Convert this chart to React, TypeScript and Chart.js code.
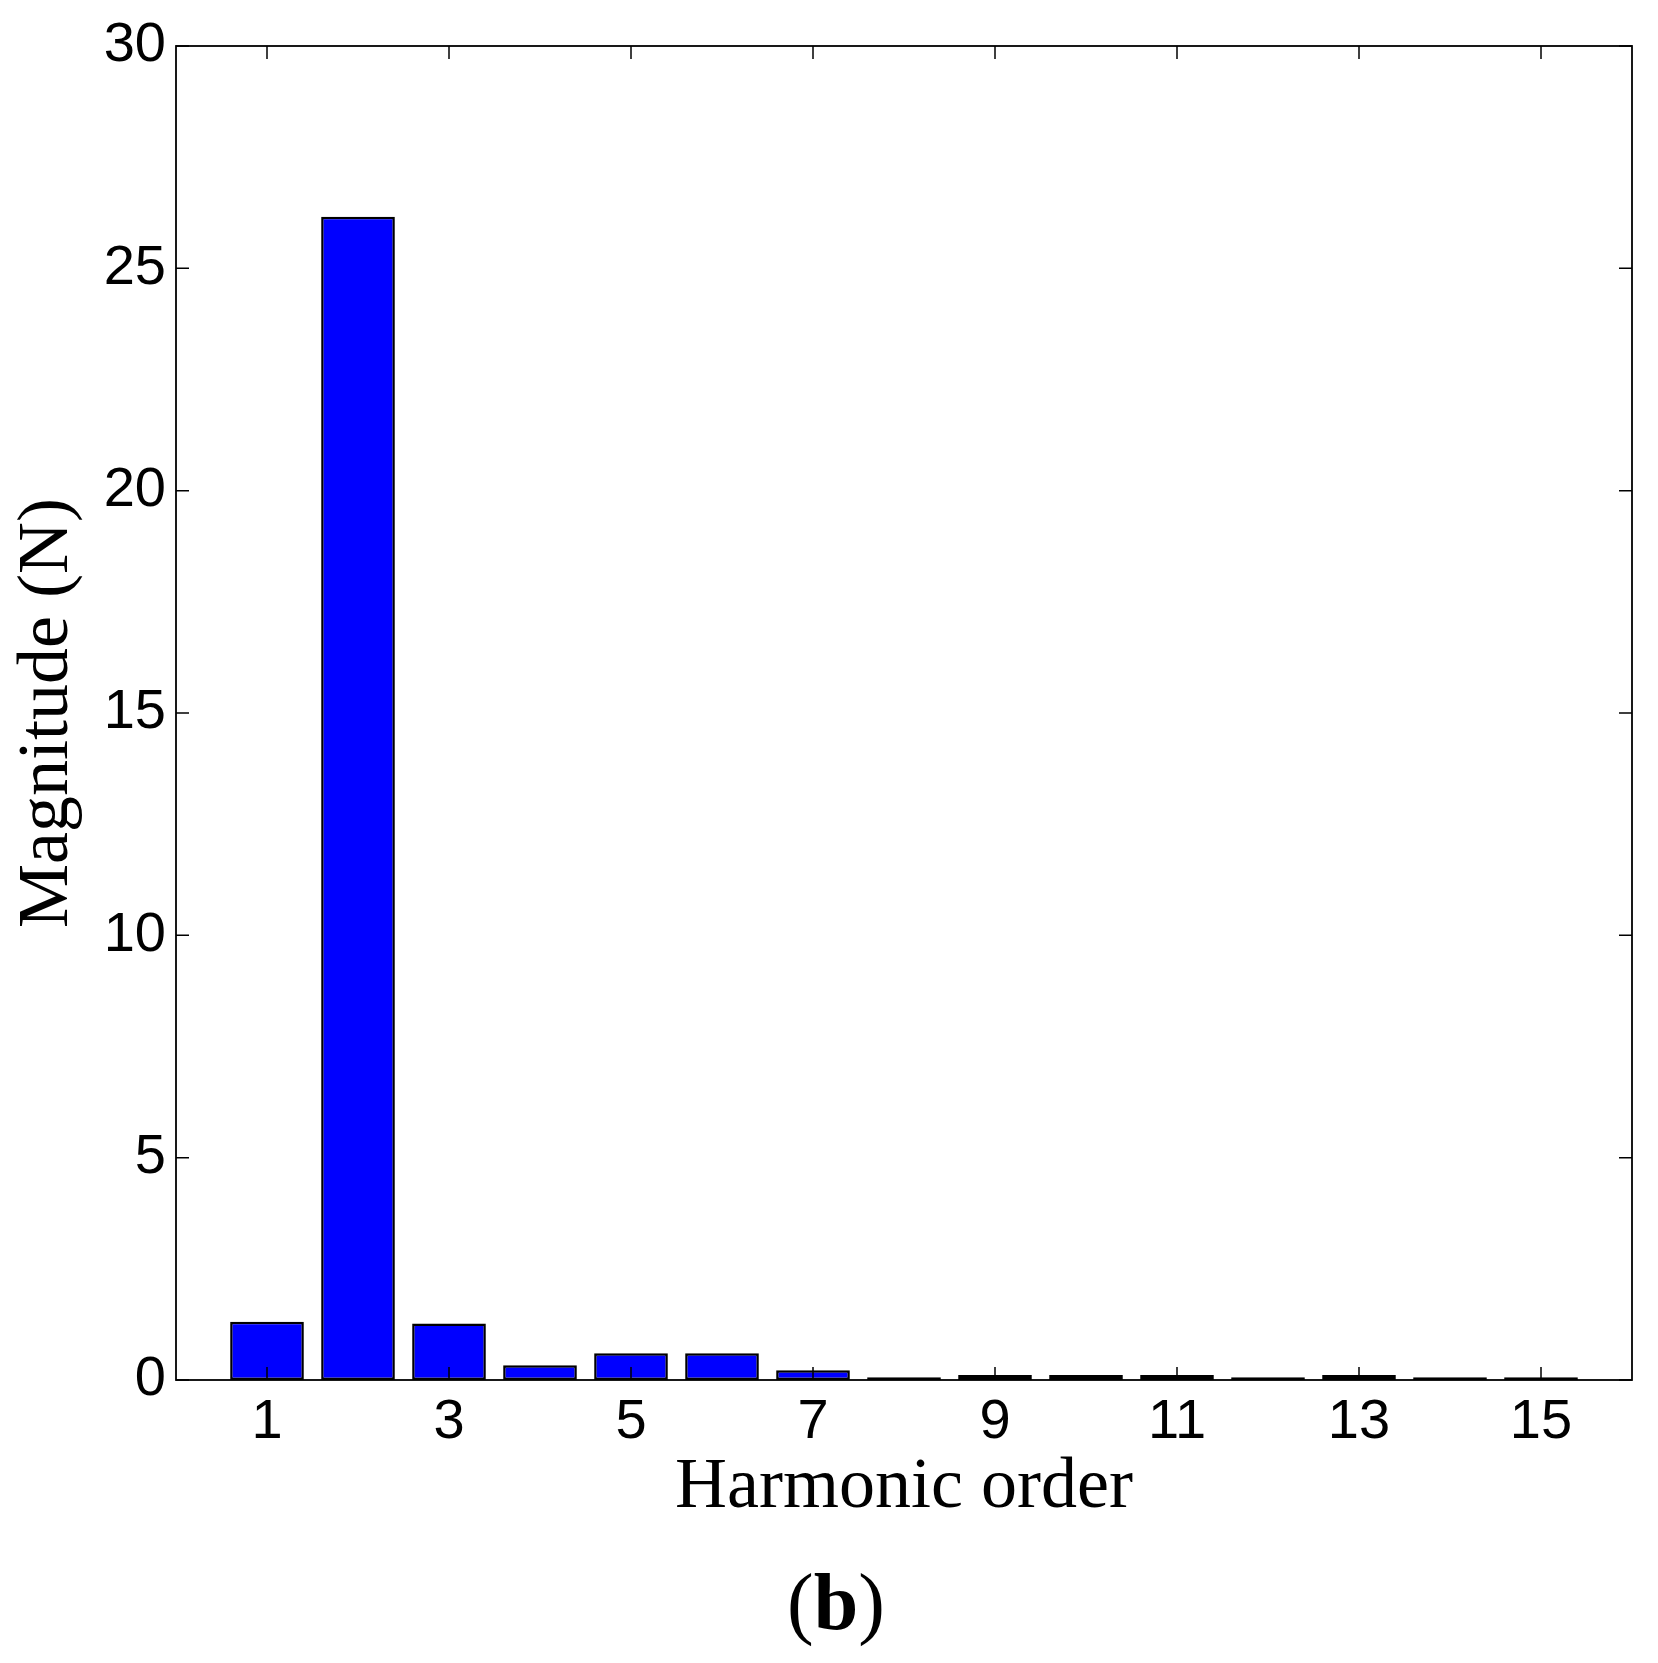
import React, { useEffect, useRef } from "react";
import { Chart, registerables } from "chart.js";

Chart.register(...registerables);

const harmonicOrders = [1, 2, 3, 4, 5, 6, 7, 8, 9, 10, 11, 12, 13, 14, 15];
const magnitudes = [1.31, 26.16, 1.27, 0.33, 0.6, 0.6, 0.22, 0.06, 0.11, 0.11, 0.11, 0.06, 0.11, 0.06, 0.06];
const xTickValues = [1, 3, 5, 7, 9, 11, 13, 15];
const yTickValues = [0, 5, 10, 15, 20, 25, 30];

const W = 1658;
const H = 1663;

const framePlugin = {
  id: "matlabFrame",
  afterDatasetsDraw(chart: any) {
    const { ctx, chartArea, scales } = chart;
    const { left, right, top, bottom } = chartArea;
    const x = scales.x;
    const y = scales.y;
    const tl = 13;
    ctx.save();
    ctx.strokeStyle = "#000";
    ctx.lineWidth = 1.5;
    ctx.beginPath();
    x.ticks.forEach((t: any) => {
      const px = x.getPixelForValue(t.value);
      ctx.moveTo(px, bottom);
      ctx.lineTo(px, bottom - tl);
      ctx.moveTo(px, top);
      ctx.lineTo(px, top + tl);
    });
    y.ticks.forEach((t: any) => {
      const py = y.getPixelForValue(t.value);
      ctx.moveTo(left, py);
      ctx.lineTo(left + tl, py);
      ctx.moveTo(right, py);
      ctx.lineTo(right - tl, py);
    });
    ctx.stroke();
    ctx.lineWidth = 1.8;
    ctx.strokeRect(left, top, right - left, bottom - top);
    ctx.restore();
  },
  afterDraw(chart: any) {
    const { ctx } = chart;
    ctx.save();
    ctx.fillStyle = "#000";
    ctx.textBaseline = "alphabetic";
    const reg = "80px 'Liberation Serif'";
    const bold = "bold 80px 'Liberation Serif'";
    ctx.font = reg;
    const wp = ctx.measureText("(").width;
    const wq = ctx.measureText(")").width;
    ctx.font = bold;
    const wb = ctx.measureText("b").width;
    const total = wp + wb + wq;
    let sx = 836 - total / 2;
    const by = 1629;
    ctx.font = reg;
    ctx.fillText("(", sx, by);
    sx += wp;
    ctx.font = bold;
    ctx.fillText("b", sx, by);
    sx += wb;
    ctx.font = reg;
    ctx.fillText(")", sx, by);
    ctx.restore();
  },
};

export default function App() {
  const canvasRef = useRef<HTMLCanvasElement | null>(null);

  useEffect(() => {
    if (!canvasRef.current) return;
    const data = harmonicOrders.map((h, i) => ({ x: h, y: magnitudes[i] }));
    const chart = new Chart(canvasRef.current, {
      type: "bar",
      data: {
        datasets: [
          {
            data: data as any,
            backgroundColor: "#0000FF",
            borderColor: "#000000",
            borderWidth: 2.5,
            borderSkipped: false,
            barPercentage: 0.81,
            categoryPercentage: 1,
          },
        ],
      },
      options: {
        responsive: false,
        animation: false,
        devicePixelRatio: 1,
        layout: { padding: { left: 0, top: 46, right: 26, bottom: 0 } },
        plugins: {
          legend: { display: false },
          tooltip: { enabled: false },
          title: { display: false },
        },
        scales: {
          x: {
            type: "linear",
            min: 0,
            max: 16,
            offset: false,
            grid: { display: false, drawTicks: false },
            border: { display: false },
            afterBuildTicks: (scale: any) => {
              scale.ticks = xTickValues.map((v) => ({ value: v }));
            },
            afterFit: (scale: any) => {
              scale.height = H - 1380;
            },
            ticks: {
              padding: 9,
              color: "#000",
              font: { family: "'Liberation Sans', Arial, sans-serif", size: 56 },
              maxRotation: 0,
              autoSkip: false,
            },
            title: {
              display: true,
              text: "Harmonic order",
              color: "#000",
              font: { family: "'Liberation Serif', 'Times New Roman', serif", size: 72 },
              padding: { top: 0, bottom: 132 },
            },
          },
          y: {
            type: "linear",
            min: 0,
            max: 30,
            grid: { display: false, drawTicks: false },
            border: { display: false },
            afterBuildTicks: (scale: any) => {
              scale.ticks = yTickValues.map((v) => ({ value: v }));
            },
            afterFit: (scale: any) => {
              scale.width = 176;
            },
            ticks: {
              padding: 10,
              color: "#000",
              font: { family: "'Liberation Sans', Arial, sans-serif", size: 56 },
            },
            title: {
              display: true,
              text: "Magnitude (N)",
              color: "#000",
              font: { family: "'Liberation Serif', 'Times New Roman', serif", size: 72 },
              padding: { top: 5, bottom: 0 },
            },
          },
        },
      },
      plugins: [framePlugin],
    });
    return () => chart.destroy();
  }, []);

  return (
    <div style={{ position: "absolute", left: 0, top: 0, width: W, height: H, background: "#fff" }}>
      <canvas ref={canvasRef} width={W} height={H} style={{ display: "block" }} />
    </div>
  );
}
